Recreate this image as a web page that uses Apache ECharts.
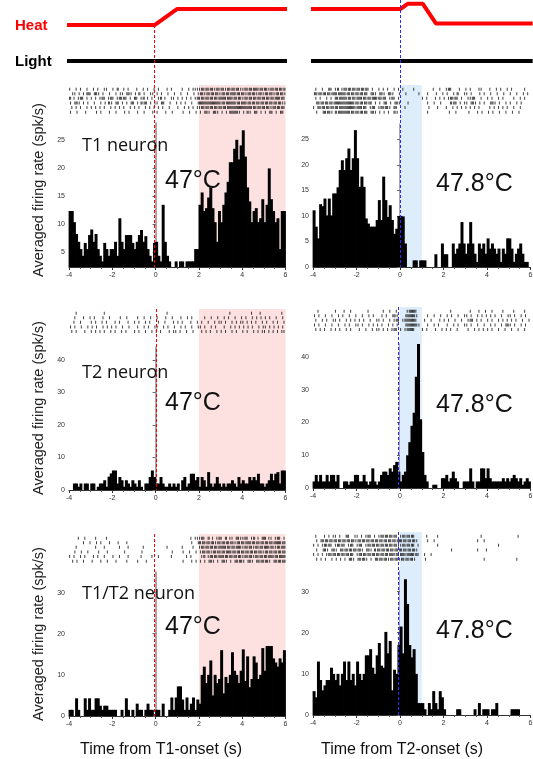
<!DOCTYPE html>
<html>
<head>
<meta charset="utf-8">
<script src="https://cdn.jsdelivr.net/npm/echarts@6/dist/echarts.min.js"></script>
<style>
  html, body { margin: 0; padding: 0; background: #fff; }
  #chart { width: 533px; height: 759px; }
</style>
</head>
<body>
<div id="chart"></div>
<script>
// bins of 0.1 s from -4 s to 6 s, values in spk/s
var binStart = -4, binWidth = 0.1;

var histT1_47 = [
  12.3, 12.3, 10.3, 8.2, 6.8, 5.5, 4.3, 6.6, 5.5, 8.0,
  9.0, 6.8, 8.2, 5.5, 4.3, 3.3, 6.6, 5.5, 4.3, 5.5,
  5.5, 6.8, 4.3, 11.0, 6.8, 5.5, 8.0, 8.0, 8.0, 6.6,
  5.5, 6.8, 8.0, 8.9, 6.8, 7.8, 5.5, 4.3, 3.3, 6.6,
  6.8, 4.3, 3.3, 13.4, 6.8, 4.3, 3.3, 2.0, 2.0, 3.3,
  2.0, 3.3, 3.3, 2.0, 3.3, 3.3, 3.3, 3.3, 5.5, 5.5,
  13.4, 15.6, 12.3, 12.8, 14.7, 16.5, 12.8, 10.3, 6.8, 12.3,
  10.3, 13.4, 15.6, 17.5, 21.0, 21.0, 23.4, 25.0, 21.5, 24.0,
  26.7, 22.0, 16.5, 14.0, 10.3, 12.3, 12.8, 10.3, 11.0, 14.4,
  10.3, 13.4, 19.9, 14.4, 12.3, 10.3, 11.0, 5.5, 12.3, 12.3
];
var histT1_478 = [
  11.1, 7.9, 5.6, 12.3, 11.9, 13.4, 10.1, 13.4, 10.1, 14.4,
  14.4, 15.6, 19.0, 20.9, 19.0, 21.3, 23.2, 19.0, 21.3, 26.8,
  21.3, 15.7, 17.7, 15.7, 9.5, 8.5, 7.9, 7.9, 7.9, 9.2,
  13.1, 9.2, 17.7, 13.1, 9.8, 12.1, 9.2, 6.5, 7.5, 10.0,
  10.0, 9.9, 4.6, 0, 0, 0, 1.3, 1.3, 0, 1.3,
  1.3, 1.3, 0, 0, 0, 0, 2.5, 0, 0, 4.6,
  2.5, 2.5, 0, 0, 4.6, 2.6, 3.6, 4.6, 8.8, 4.6,
  2.6, 4.6, 8.8, 4.6, 2.6, 1.0, 4.6, 3.6, 4.6, 2.6,
  5.6, 3.6, 4.6, 3.6, 2.6, 3.6, 1.0, 3.6, 2.6, 5.6,
  5.6, 3.6, 1.0, 2.6, 3.6, 4.6, 2.6, 1.0, 1.0, 0
];
var histT2_47 = [
  0, 0, 2, 2, 1, 2, 0, 2, 2, 0,
  2, 2, 0, 1, 2, 2, 3, 1, 4.1, 5.1,
  6, 6, 2, 4, 3, 1, 3, 2, 1, 3,
  2, 1, 3, 1, 0, 2, 2, 4, 6, 4,
  2, 2, 4, 2, 1, 1, 2, 1, 2, 1,
  2, 0, 3, 4, 1, 2, 5, 5, 3, 4,
  1, 4, 3, 1, 5.5, 2, 1, 2, 4, 2,
  1, 2, 1, 2, 2, 3, 2, 1, 4, 2,
  3, 2, 2, 4, 3, 4, 3, 5, 2, 2,
  1, 2, 3, 5, 3, 5, 5.5, 2, 6, 6
];
var histT2_478 = [
  2, 4, 2, 4, 2, 2, 4, 2, 4, 4,
  2, 4, 0, 0, 2, 2, 1, 2, 2, 4,
  4, 2, 2, 4, 2, 1, 2, 6, 2, 1,
  2, 4, 5, 5, 4, 6, 5, 7, 8, 5,
  2, 4, 5, 10, 14, 19, 23, 34, 44, 21,
  11, 4, 2, 0, 0, 1, 1, 0, 0, 3,
  3, 4, 2, 3, 5, 3, 2, 0, 0, 2,
  2, 2, 6, 2, 0, 2, 2, 6, 6, 3,
  6, 3, 2, 2, 2, 2, 2, 3, 2, 3,
  2, 3, 4, 3, 2, 3, 1, 2, 3, 2
];
var histT12_47 = [
  1.5, 1.5, 0, 4.3, 1.5, 0, 0, 4.3, 1.5, 4.3,
  1.5, 1.5, 4.3, 4.3, 2.5, 1.5, 2.5, 2.5, 1.5, 1.5,
  1.5, 1.5, 0, 0, 1.5, 0, 4.3, 1.5, 0, 1.5,
  0, 3.0, 1.5, 1.5, 0, 1.5, 3.0, 1.5, 1.5, 0,
  1.5, 1.5, 0, 3.0, 0, 0, 1.5, 4.5, 1.5, 4.5,
  7.2, 7.2, 4.0, 1.5, 4.5, 1.5, 3.0, 4.5, 1.5, 4.0,
  3.0, 10.0, 12.0, 8.0, 10.0, 13.5, 5.0, 10.0, 8.0, 9.0,
  16.0, 5.5, 9.5, 8.0, 10.0, 15.5, 11.0, 10.0, 8.0, 11.0,
  16.2, 8.5, 14.5, 7.0, 9.0, 14.5, 13.0, 9.0, 10.0, 16.5,
  11.0, 17.0, 17.0, 17.0, 14.0, 13.0, 12.0, 14.0, 13.0, 16.0
];
var histT12_478 = [
  5.8, 4.3, 13.0, 8.5, 6.0, 7.2, 8.5, 8.5, 11.5, 10.0,
  8.5, 10.0, 7.2, 10.0, 13.0, 8.5, 13.0, 8.5, 10.0, 7.2,
  13.0, 10.0, 8.5, 10.0, 14.5, 14.5, 16.0, 11.5, 10.0, 14.5,
  17.5, 12.0, 11.5, 20.2, 15.0, 18.0, 6.0, 11.0, 10.0, 17.0,
  21.5, 15.0, 33.0, 27.0, 17.0, 14.0, 16.0, 10.0, 2.9, 2.9,
  2.9, 1.4, 0, 2.9, 1.4, 5.8, 2.9, 1.4, 5.8, 4.3,
  1.4, 0, 0, 0, 0, 0, 1.4, 1.4, 0, 0,
  0, 0, 0, 0, 1.4, 0, 2.9, 0, 1.4, 1.4,
  1.4, 0, 1.4, 1.4, 2.9, 0, 0, 0, 0, 0,
  0, 1.4, 1.4, 1.4, 1.4, 0, 0, 0, 0, 0
];

// spike rasters: one row per trial, one string per second, one char per 0.1 s ('.' one spike, ':' two)
var rasterT1_47 = [
  [".  . .  . ", " . .  ..  ", ". :  . .  ", " .  . .  .", " .   . .  ", "  .  . ...", ".:.:.:..:.", ":..:.:.:..", ".:.:.::.:.", ":..:.:.:.:"],
  [" .. . . ::", " .:. .  . ", " . .. .:. ", ". : .  .. ", ". .  .  . ", " .  .  . .", ".:..:.:.:.", ".:.:.::.:.", ":..:.:..:.", ".:.:..:.:."],
  [": . .:. . ", ". . .:. .:", ". .:.:. . ", ":. .: . . ", " .: .  .. ", ". . . . .:", ".:.:.:.:.:", "::.::.:.:.", ".:.:.:.:.:", ".:.:.::.:."],
  [". .:. . . ", " .  . . :.", " .: . . .:", " . :.: . .", ". .:  .  .", " . .  .  .", "::::::::::", ".:.::::.:.", "::.:.:.:.:", ".:.:.:.:.."],
  [" . . .  . ", ". . . .  .", " . . .  . ", ". .  . . .", " . .  .   ", ".  . . . .", ".:.:.:.:.:", ".:.:::::::", "::::.:.:.:", ".:..:.:.:."],
  [".  .   .  ", "  . .   . ", " .   . .  ", " .  .   . ", ".   .  .  ", "  .  .  . ", ". .:. .:. ", ". . ::::. ", ". :. .: . ", ". .: . .: "]
];
var rasterT1_478 = [
  [" .  .  :. ", ".: .:.:.:.", ":.:.:. .  ", ". . .  . .", " .    .   ", "     .  . ", " .:.   .  ", ". .   ..  ", " .  . .  .", " .     .  "],
  [".:.:.:.:.:", ":.:::.:.:.", ":.:.: .:. ", ".:. .:.  .", "  .     . ", "  .   .  .", " .  . :  .", ". .   . . ", " .  .  .  ", ".  .  . . "],
  [" . .  . . ", ":.:::.:.:.", "::.:.:.::.", ":.:. .:. .", "          ", ". .   . . ", ". .:.:. . ", " ..:.  .  ", ". .  . .  ", "  .  . .  "],
  [" .:.:.:.:.", ":::::::::.", ":.:.:.: . ", ". .: . .:.", "   .      ", "  .  .  . ", "   :.: . .", ". .:. . . ", " .:. .  . ", ".  . .    "],
  [". :.:.:.:.", ":.:::::::.", "::.:. .:. ", ".:.:.. :. ", "  .       ", "   .   .  ", " .  . . . ", ". . . .   ", " . . . . .", "  .  .    "],
  [" .  .:.:. ", ":.:::::.:.", ":.:.: .:. ", ". . .  :. ", "          ", "  .       ", "  .  .    ", " .   . .  ", ". .  .  . ", " .  .     "]
];
var rasterT2_47 = [
  ["   .      ", "      .   ", "          ", "          ", "     .    ", "          ", "          ", "    .     ", "    .   . ", "        . "],
  ["  .   .  .", " .   .  . ", "   .  .   ", " .  .  .  ", ".   .  .  ", " .  . .   ", "  .  .  . ", " . .  .  .", " .  . . . ", ". .  .  . "],
  ["  .  .    ", ". .  . .  ", " . .   .  ", ". .  . .  ", " .  .   . ", ". .   .  .", " .  .  . .", ". .  . . .", ". . . .  .", " .  . .  ."],
  [". .  .  . ", ". .  . . .", " .  .  .  ", " .  . .  .", ".  . .  . ", " . .  .  .", ". .  . .  ", " .  . . . ", ". . .  . .", ". . . . . "],
  [" . .   .  ", ". . . .  .", " .  . .   ", ". .  .  . ", ". .   . ..", " .  .  .  ", " . . .  . ", ". .  . .  ", ". .  . . .", ". . . . .."]
];
var rasterT2_478 = [
  ["  .       ", ".   .  .  ", "     .    ", "  .  .  . ", "   .:::.  ", "          ", "   .      ", "  .   .  .", "  .    .  ", "  .    .  "],
  [". .  .  . ", " . .  .  .", "  .  . .  ", " . .  .:. ", "  .::::.  ", "  .  .  . ", " . .  .  .", ". .  . . .", " . .  .  .", ". .  . .  "],
  [" .  . .  .", ". .  . . .", " . .  .  .", ". .  . .:.", " .:::::.  ", " .  .   . ", ". .  .  . ", " .:. . .  ", ". .  . . .", " . .  .  ."],
  [". .  .  . ", " .  . .  .", ". .  . . .", " .  . . . ", "  .:::::. ", "  .  . .  ", " .  . .  .", ". .  .  . ", " . .  . .:", ". .  . .  "],
  [" . . .  . ", ". .  . .  ", " .  .  . .", ". . . .:. ", ". .:::.   ", ". .   .  .", " . .  .   ", " .  . . . ", ". .  .  . ", " .  .  .  "]
];
var rasterT12_47 = [
  ["    .  .  ", "  .    .  ", "          ", "          ", "          ", "      . ..", ".:. : . .:", ". : .. :..", ".:. .: . :", ": .. .:. ."],
  ["      .  .", "  . .   . ", "  .   .   ", "          ", "          ", "      .  .", ":.:.:.:..:", ".:.:.:..:.", ":.::.:.:.:", ".:.:.:::.:"],
  ["   .      ", "  .   .   ", "   .   .  ", "    .     ", "     .    ", "  .    .  ", ".:.:.:.:.:", "::.:.:.::.", ".:.:..:.:.", "::.:..:.::"],
  ["  .  .  . ", "   .   .  ", "     .    ", "   .      ", "       .  ", "  .  .  . ", "..:.:..:.:", ".:.::.:.:.", ":.:.:.:.:.", ".:.:.:.:.:"],
  [". .  . .  ", " . .  .   ", ".  .   .  ", "   .    . ", " .     .  ", "    . .   ", " .: .:.:.:", ":.:.:.:.:.", ".:.:..:.:.", ":.::.:.:::"],
  [" . .  .   ", ".   .  .  ", " .    .   ", " .   .    ", "          ", "  .   . . ", ". . .:. . ", ".:. . .:.:", ". .:. .:.:", ".:. .:.:.:"]
];
var rasterT12_478 = [
  [" .   . . .", ". .  :.  .", ". . .:. . ", ".:.:.:.:. ", ".:.:.:.   ", "  .    .  ", "          ", "       .  ", "          ", "    .     "],
  [" . .:.:.:.", ":.:.:.:.:.", ".:.:.:.:.:", ".:.:.:.:.:", ":.:.:.:.  ", "  .  .    ", "          ", "     .  . ", "          ", "          "],
  [". . .:.:. ", ".:.:. .:. ", ".:. .:.:.:", ".:.:.:.:..", ".:.:.:. . ", "       .  ", "          ", "          ", "     .    ", "          "],
  [" .  .:. .:", ". .:.:.:.:", ".:. .:. :.", ":.:.:.:.:.", ":.:.:.:.  ", "          ", "   .      ", "     .   .", "          ", "          "],
  [". . . .:.:", ".:.:.:.:. ", ".:.:.:.:.:", ".:.:.::.:.", "::.:::.:. ", " .  .     ", "          ", "          ", "          ", "          "],
  [" . . .  . ", ". . . .:. ", ".:.:. . .:", ".:.:..:.:.", ".:.:.:.   ", " .        ", "          ", "        . ", "          ", "   .      "]
];

// stimulus traces (arbitrary level units)
var heatLeft = [[-4.5, 2.24], [-0.05, 2.24], [1, 3.24], [6.07, 3.24]];
var heatRight = [[-4.41, 3.24], [0.03, 3.24], [0.35, 3.56], [1.05, 3.56], [1.65, 2.34], [6.1, 2.34]];
var lightLeft = [[-4.5, 0], [6.07, 0]];
var lightRight = [[-4.41, 0], [6.1, 0]];

var yTicksRow1 = [5, 10, 15, 20, 25];
var yTicksRow1R = [0, 5, 10, 15, 20, 25];
var yTicksRow2 = [0, 10, 20, 30, 40];
var yTicksRow3 = [0, 10, 20, 30];
var shadeT1 = [2, 6], shadeT2 = [0, 1];
var neuronNames = ['T1 neuron', 'T2 neuron', 'T1/T2 neuron'];
var tempLabels = ['47\u00b0C', '47.8\u00b0C'];

var RED = '#ff0000', BLUE = '#2a2aff';
var PINK = '#fde1e1', LIGHTBLUE = '#deedfb';

var panels = [
  { hist: histT1_47, raster: rasterT1_47, yMin: 2.3, yMax: 28, ticks: yTicksRow1, left: 69, width: 216.5, top: 123, bottom: 267, rTop: 85, shade: shadeT1, shadeColor: PINK, dash: RED, dashX: -0.05 },
  { hist: histT1_478, raster: rasterT1_478, yMin: 0, yMax: 28, ticks: yTicksRow1R, left: 313, width: 217.5, top: 124, bottom: 267, rTop: 85, shade: shadeT2, shadeColor: LIGHTBLUE, dash: BLUE, dashX: 0.03 },
  { hist: histT2_47, raster: rasterT2_47, yMin: 0, yMax: 44, ticks: yTicksRow2, left: 69, width: 216.5, top: 347, bottom: 490, rTop: 309, shade: shadeT1, shadeColor: PINK, dash: RED, dashX: 0.03 },
  { hist: histT2_478, raster: rasterT2_478, yMin: 0, yMax: 44, ticks: yTicksRow2, left: 313, width: 217.5, top: 344, bottom: 488, rTop: 307, shade: shadeT2, shadeColor: LIGHTBLUE, dash: BLUE, dashX: -0.1 },
  { hist: histT12_47, raster: rasterT12_47, yMin: 0, yMax: 35, ticks: yTicksRow3, left: 69, width: 216.5, top: 572, bottom: 716, rTop: 534, shade: shadeT1, shadeColor: PINK, dash: RED, dashX: -0.05 },
  { hist: histT12_478, raster: rasterT12_478, yMin: 0, yMax: 35, ticks: yTicksRow3, left: 313, width: 217.5, top: 571, bottom: 715, rTop: 532, shade: shadeT2, shadeColor: LIGHTBLUE, dash: BLUE, dashX: -0.1 }
];

var rowGap = 4.6;

function decodeRaster(rows) {
  var pts = [];
  rows.forEach(function (groups, r) {
    // single spikes sit a little left or right of the bin centre, alternating by trial
    var off = r % 2 ? 0.07 : 0.03;
    groups.forEach(function (g, s) {
      for (var j = 0; j < g.length; j++) {
        var t = binStart + s + j * binWidth;
        if (g[j] === '.') pts.push([t + off, r]);
        else if (g[j] === ':') { pts.push([t + 0.025, r]); pts.push([t + 0.075, r]); }
      }
    });
  });
  return pts;
}

function histRender(yMin) {
  return function (params, api) {
    var x0 = api.value(0), v = api.value(1);
    if (v <= yMin) return;
    var p0 = api.coord([x0, yMin]);
    var p1 = api.coord([x0 + binWidth, v]);
    // overlap neighbours slightly so adjacent bins read as one solid histogram
    return {
      type: 'rect',
      shape: { x: p0[0] - 0.4, y: p1[1], width: p1[0] - p0[0] + 0.8, height: p0[1] - p1[1] },
      style: { fill: '#000' }
    };
  };
}

var grids = [], xAxes = [], yAxes = [], series = [];
var hiddenX = { type: 'value', min: -4, max: 6, show: false };

// stimulus grids (top)
[{ left: 69, width: 216.5 }, { left: 313, width: 217.5 }].forEach(function (g, k) {
  grids.push({ left: g.left, width: g.width, top: 0, height: 85, outerBoundsMode: 'none' });
  var gi = grids.length - 1;
  xAxes.push(Object.assign({ gridIndex: gi }, hiddenX));
  yAxes.push({ type: 'value', gridIndex: gi, min: -1.5, max: 3.8, show: false });
  series.push({
    type: 'line', xAxisIndex: gi, yAxisIndex: gi, data: k === 0 ? heatLeft : heatRight,
    symbol: 'none', clip: false, lineStyle: { color: RED, width: 4 }, z: 4
  });
  series.push({
    type: 'line', xAxisIndex: gi, yAxisIndex: gi, data: k === 0 ? lightLeft : lightRight,
    symbol: 'none', clip: false, lineStyle: { color: '#000', width: 4 }, z: 4,
    markLine: {
      silent: true, symbol: 'none', label: { show: false },
      lineStyle: { color: k === 0 ? RED : BLUE, width: 1, type: [3, 2] },
      data: k === 0
        ? [[{ coord: [panels[0].dashX, 2.24] }, { coord: [panels[0].dashX, -1.5] }]]
        : [[{ coord: [panels[1].dashX, 3.8] }, { coord: [panels[1].dashX, -1.5] }]]
    }
  });
});

panels.forEach(function (p) {
  // raster + shading grid
  grids.push({ left: p.left, width: p.width, top: p.rTop, height: p.bottom - p.rTop, outerBoundsMode: 'none' });
  var ri = grids.length - 1;
  xAxes.push(Object.assign({ gridIndex: ri }, hiddenX));
  yAxes.push({ type: 'value', gridIndex: ri, inverse: true, min: -0.9, max: (p.bottom - p.rTop) / rowGap - 0.9, show: false });
  series.push({
    type: 'scatter', xAxisIndex: ri, yAxisIndex: ri, data: decodeRaster(p.raster),
    symbol: 'rect', symbolSize: [1, 3], itemStyle: { color: '#111' }, silent: true, z: 1,
    markArea: {
      silent: true, itemStyle: { color: p.shadeColor },
      data: [[{ xAxis: p.shade[0] }, { xAxis: p.shade[1] }]]
    }
  });
  series.push({
    type: 'line', xAxisIndex: ri, yAxisIndex: ri, data: [], z: 6,
    markLine: {
      silent: true, symbol: 'none', label: { show: false },
      lineStyle: { color: p.dash, width: 1, type: [3, 2] },
      data: [{ xAxis: p.dashX }]
    }
  });

  // histogram grid
  grids.push({ left: p.left, width: p.width, top: p.top, height: p.bottom - p.top, outerBoundsMode: 'none' });
  var hi = grids.length - 1;
  xAxes.push({
    type: 'value', gridIndex: hi, min: -4, max: 6, interval: 2,
    axisLine: { lineStyle: { color: '#333', width: 1 } },
    axisTick: { length: 3, lineStyle: { color: '#333' } },
    minorTick: { show: true, splitNumber: 4, length: 2, lineStyle: { color: '#555' } },
    splitLine: { show: false },
    axisLabel: { fontSize: 7, color: '#333', margin: 5, fontFamily: 'Liberation Sans' }
  });
  yAxes.push({
    type: 'value', gridIndex: hi, min: p.yMin, max: p.yMax,
    axisLine: { show: true, lineStyle: { color: '#8a8a8a', width: 1.5 } },
    axisTick: { show: true, length: 3, customValues: p.ticks, lineStyle: { color: '#666' } },
    minorTick: { show: false },
    splitLine: { show: false },
    axisLabel: { fontSize: 7, color: '#333', margin: 4, customValues: p.ticks, fontFamily: 'Liberation Sans' }
  });
  series.push({
    type: 'custom', xAxisIndex: hi, yAxisIndex: hi, z: 3,
    data: p.hist.map(function (v, i) { return [binStart + i * binWidth, v]; }),
    encode: { x: 0, y: 1 },
    renderItem: histRender(p.yMin)
  });
});

var graphic = [
  { type: 'text', x: 15, y: 26, style: { text: 'Heat', font: 'bold 15px "Liberation Sans"', fill: RED, verticalAlign: 'middle' } },
  { type: 'text', x: 15, y: 62, style: { text: 'Light', font: 'bold 15px "Liberation Sans"', fill: '#000', verticalAlign: 'middle' } },
  { type: 'text', x: 161, y: 750, style: { text: 'Time from T1-onset (s)', font: '16px "Liberation Sans"', fill: '#111', align: 'center', verticalAlign: 'middle' } },
  { type: 'text', x: 402, y: 750, style: { text: 'Time from T2-onset (s)', font: '16px "Liberation Sans"', fill: '#111', align: 'center', verticalAlign: 'middle' } }
];
var nameY = [146, 373, 594];
var tempYL = [181, 403, 627];
var tempYR = [184, 405, 631];
var axisNameY = [190, 408, 634];
for (var r = 0; r < 3; r++) {
  graphic.push({ type: 'text', x: 82, y: nameY[r], style: { text: neuronNames[r], font: '18px "Open Sans"', fill: '#111', verticalAlign: 'middle' } });
  graphic.push({ type: 'text', x: 165, y: tempYL[r], style: { text: tempLabels[0], font: '25px "Liberation Sans"', fill: '#111', verticalAlign: 'middle' } });
  graphic.push({ type: 'text', x: 436, y: tempYR[r], style: { text: tempLabels[1], font: '25px "Liberation Sans"', fill: '#111', verticalAlign: 'middle' } });
  graphic.push({ type: 'text', x: 39, y: axisNameY[r], rotation: Math.PI / 2, style: { text: 'Averaged firing rate (spk/s)', font: '14.5px "Liberation Sans"', fill: '#222', align: 'center', verticalAlign: 'middle' } });
}
graphic.forEach(function (g) { g.z = 100; });

var chart = echarts.init(document.getElementById('chart'), null, { renderer: 'canvas' });
chart.setOption({
  animation: false,
  backgroundColor: '#fff',
  grid: grids,
  xAxis: xAxes,
  yAxis: yAxes,
  series: series,
  graphic: graphic
});
</script>
</body>
</html>
